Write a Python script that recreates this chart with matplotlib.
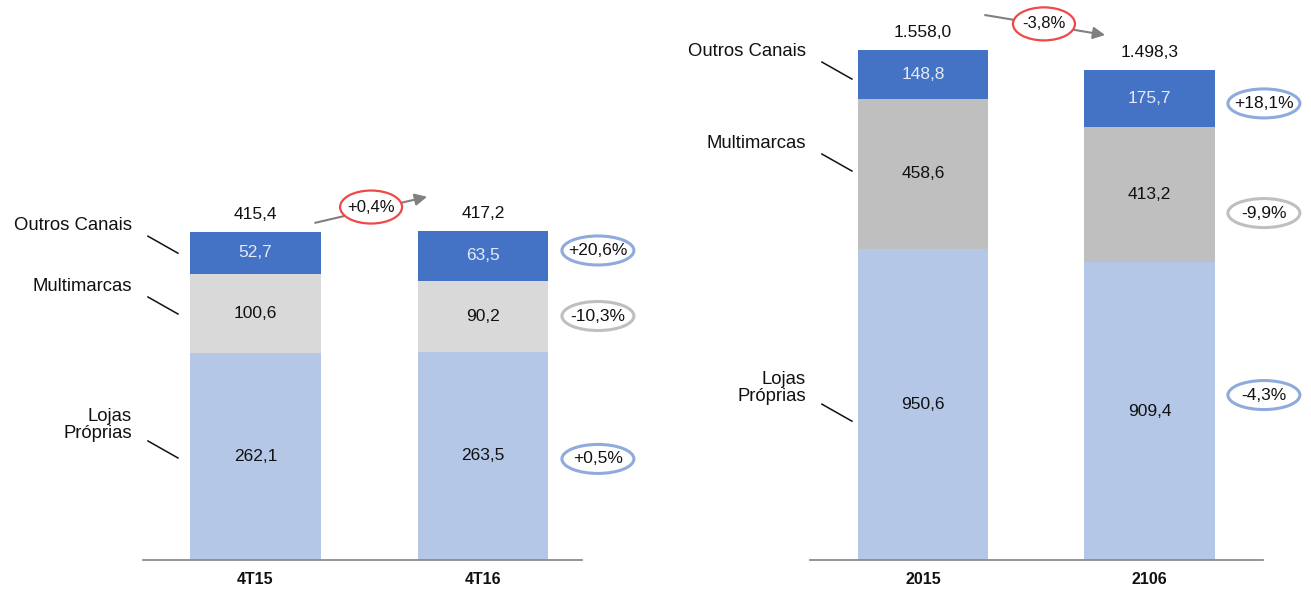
import matplotlib
matplotlib.use("Agg")
import matplotlib.pyplot as plt
from matplotlib.patches import Ellipse
from matplotlib.lines import Line2D
from matplotlib.transforms import Affine2D, ScaledTranslation

plt.rcParams['font.family'] = ['Liberation Sans', 'DejaVu Sans']

# ---------------- data ----------------
segment_names = ["Lojas\nPróprias", "Multimarcas", "Outros Canais"]

q_categories = ["4T15", "4T16"]
q_lojas = [262.1, 263.5]
q_multi = [100.6, 90.2]
q_outros = [52.7, 63.5]
q_totals = [415.4, 417.2]
q_seg_var = ["+0,5%", "-10,3%", "+20,6%"]
q_total_var = "+0,4%"

y_categories = ["2015", "2106"]
y_lojas = [950.6, 909.4]
y_multi = [458.6, 413.2]
y_outros = [148.8, 175.7]
y_totals = [1558.0, 1498.3]
y_seg_var = ["-4,3%", "-9,9%", "+18,1%"]
y_total_var = "-3,8%"

# ---------------- style ----------------
C_OUTROS = "#4472C4"
C_LOJAS = "#B4C7E7"
C_MULTI_Q = "#D9D9D9"
C_MULTI_Y = "#BFBFBF"
C_BLUE_RING = "#8FAADC"
C_GRAY_RING = "#BFBFBF"
C_RED_RING = "#F04848"
NUM_FS = 12.5
LAB_FS = 13.3

fig = plt.figure(figsize=(13.11, 5.91), dpi=100)
W, H = 1311, 591


def br(v):
    s = f"{v:,.1f}"
    return s.replace(",", "X").replace(".", ",").replace("X", ".")


def anchored(ax, x, y):
    # local coordinates are pixel offsets from data point (x, y)
    return Affine2D() + ScaledTranslation(x, y, ax.transData)


def draw_panel(rect, ymax, cats, lojas, multi, outros, totals, multi_color,
               seg_var, seg_var_y, total_var, total_var_pos, arrow_from, arrow_to,
               label_y, label_x):
    ax = fig.add_axes([rect[0] / W, (H - rect[3]) / H, (rect[1] - rect[0]) / W, rect[3] / H])
    x = list(range(len(cats)))
    width = 0.575
    ax.bar(x, lojas, width=width, color=C_LOJAS, zorder=2)
    ax.bar(x, multi, width=width, bottom=lojas, color=multi_color, zorder=2)
    bottoms3 = [a + b for a, b in zip(lojas, multi)]
    ax.bar(x, outros, width=width, bottom=bottoms3, color=C_OUTROS, zorder=2)

    for i in x:
        ax.text(i, lojas[i] / 2, br(lojas[i]), ha="center", va="center", fontsize=NUM_FS, color="#111111", zorder=3)
        ax.text(i, lojas[i] + multi[i] / 2, br(multi[i]), ha="center", va="center", fontsize=NUM_FS, color="#111111", zorder=3)
        ax.text(i, bottoms3[i] + outros[i] / 2, br(outros[i]), ha="center", va="center", fontsize=NUM_FS, color="#E4EBF6", zorder=3)
        ax.annotate(br(totals[i]), (i, totals[i]), xytext=(0, 12.5), textcoords="offset points",
                    ha="center", va="center", fontsize=NUM_FS, color="#111111", annotation_clip=False)

    # segment percentage variations (ellipses right of second bar)
    ring_colors = [C_BLUE_RING, C_GRAY_RING, C_BLUE_RING]
    for s, yv, rc in zip(seg_var, seg_var_y, ring_colors):
        e = Ellipse((0, 0), 72, 29, transform=anchored(ax, 1.505, yv), facecolor="white",
                    edgecolor=rc, lw=2.2, clip_on=False, zorder=4)
        ax.add_patch(e)
        ax.text(1.505, yv, s, ha="center", va="center", fontsize=NUM_FS, color="#111111", zorder=5, clip_on=False)

    # total variation arrow + red ellipse
    ax.annotate("", xy=arrow_to, xytext=arrow_from,
                arrowprops=dict(arrowstyle="-|>", color="#808080", lw=1.5, mutation_scale=18,
                                shrinkA=0, shrinkB=0), annotation_clip=False, zorder=3)
    e = Ellipse((0, 0), 62, 33, transform=anchored(ax, *total_var_pos), facecolor="white",
                edgecolor=C_RED_RING, lw=1.6, clip_on=False, zorder=4)
    ax.add_patch(e)
    ax.text(total_var_pos[0], total_var_pos[1], total_var, ha="center", va="center",
            fontsize=NUM_FS - 0.5, color="#111111", zorder=5, clip_on=False)

    # segment names with leader lines
    for name, ly in zip(segment_names, label_y):
        ax.text(label_x, ly, name, ha="right", va="center", fontsize=LAB_FS, color="#111111",
                linespacing=1.0, clip_on=False)
        dy = 18 if "\n" in name else 13
        ln = Line2D([16, 46], [-dy + 2, -dy - 15], transform=anchored(ax, label_x, ly),
                    color="#111111", lw=1.1, clip_on=False)
        ax.add_line(ln)

    ax.set_xlim(rect[2])
    ax.set_ylim(0, ymax)
    for sp in ["left", "right", "top"]:
        ax.spines[sp].set_visible(False)
    ax.spines["bottom"].set_color("#8C8C8C")
    ax.spines["bottom"].set_linewidth(1.3)
    ax.set_yticks([])
    ax.set_xticks(x)
    ax.set_xticklabels(cats, fontweight="bold", fontsize=11.5, color="#111111")
    ax.tick_params(axis="x", length=0, pad=9)
    return ax


# left panel: 4T15 / 4T16
draw_panel(rect=(143, 582, (-0.4945, 1.435), 560), ymax=709.2, cats=q_categories,
           lojas=q_lojas, multi=q_multi, outros=q_outros, totals=q_totals,
           multi_color=C_MULTI_Q, seg_var=q_seg_var, seg_var_y=[128, 309, 392],
           total_var=q_total_var, total_var_pos=(0.508, 447),
           arrow_from=(0.262, 427), arrow_to=(0.754, 460),
           label_y=[171, 347, 424], label_x=-0.543)

# right panel: 2015 / 2016
draw_panel(rect=(810, 1263, (-0.499, 1.501), 560), ymax=1711, cats=y_categories,
           lojas=y_lojas, multi=y_multi, outros=y_outros, totals=y_totals,
           multi_color=C_MULTI_Y, seg_var=y_seg_var, seg_var_y=[504, 1060, 1395],
           total_var=y_total_var, total_var_pos=(0.534, 1638),
           arrow_from=(0.274, 1665), arrow_to=(0.804, 1604),
           label_y=[525, 1274, 1555], label_x=-0.517)

fig.savefig("out.png", dpi=100, facecolor="white")
